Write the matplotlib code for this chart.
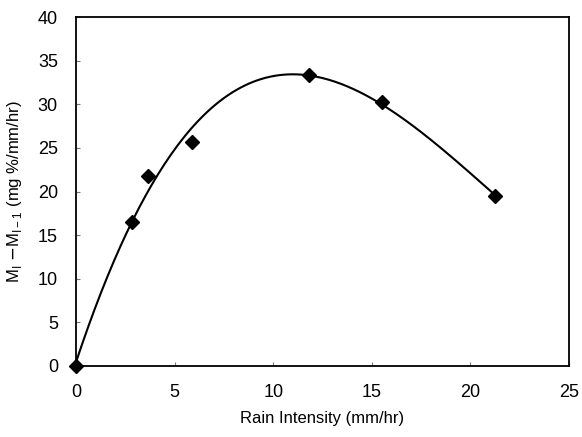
import matplotlib
matplotlib.use("Agg")
import matplotlib.pyplot as plt
import numpy as np

plt.rcParams['font.family'] = ['Liberation Sans', 'DejaVu Sans']

# data
rain = [0, 2.83, 3.64, 5.87, 11.8, 15.5, 21.25]
dm = [0, 16.5, 21.8, 25.7, 33.3, 30.3, 19.5]

xticks = [0, 5, 10, 15, 20, 25]
yticks = [0, 5, 10, 15, 20, 25, 30, 35, 40]

fig = plt.figure(figsize=(5.82, 4.37), dpi=100)
ax = fig.add_axes([0.1306, 0.1625, 0.9777 - 0.1306, 0.961 - 0.1625])

# trend line (cubic fit through the points)
coef = np.polyfit(rain, dm, 3)
xs = np.linspace(0, max(rain), 200)
ax.plot(xs, np.polyval(coef, xs), '-', color='black', lw=1.5)
ax.plot(rain, dm, 'D', color='black', markersize=7, clip_on=False, zorder=3)

ax.set_xlim(0, 25)
ax.set_ylim(0, 40)
ax.set_xticks(xticks)
ax.set_yticks(yticks)
ax.tick_params(direction='in', length=3, labelsize=13, color='#777777')
ax.tick_params(axis='x', pad=13)
ax.tick_params(axis='y', pad=13)
for s in ax.spines.values():
    s.set_linewidth(1.3)

ax.set_xlabel("Rain Intensity (mm/hr)", fontsize=12, labelpad=7)
ax.set_ylabel(r"M$_{\mathregular{I}}$ $-$M$_{\mathregular{I-1}}$ (mg %/mm/hr)", fontsize=12, labelpad=10)

fig.savefig("out.png", dpi=100)
